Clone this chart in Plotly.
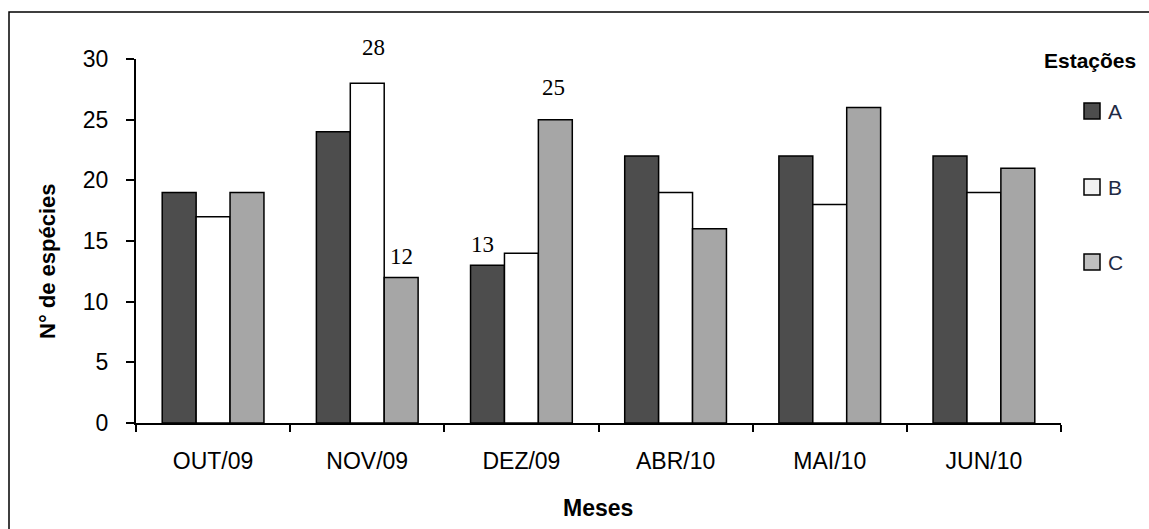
import plotly.graph_objects as go

# Monthly number of species per sampling station
months = ["OUT/09", "NOV/09", "DEZ/09", "ABR/10", "MAI/10", "JUN/10"]
station_a = [19, 24, 13, 22, 22, 22]
station_b = [17, 28, 14, 19, 18, 19]
station_c = [19, 12, 25, 16, 26, 21]
stations = ["A", "B", "C"]

# Values written above selected bars: (month index, station index)
labelled = [(1, 1), (1, 2), (2, 0), (2, 2)]
label_lift = [36, 21, 21, 32]
label_nudge = [6, 0, -5, -2]

W, H = 1149, 529
ML, MR, MT, MB = 136, 88, 59, 106
PW, PH = W - ML - MR, H - MT - MB


def px(x):
    return (x - ML) / PW


def py(y):
    return (H - MB - y) / PH


fills = ["#4d4d4d", "#ffffff", "#a6a6a6"]
legend_fills = ["#4d4d4d", "#f2f2f2", "#bfbfbf"]
series = [station_a, station_b, station_c]
BARGAP = 0.34
SANS = "Liberation Sans"

fig = go.Figure()
for name, vals, col in zip(stations, series, fills):
    fig.add_trace(go.Bar(
        x=months, y=vals, name=name,
        marker=dict(color=col, line=dict(color="#000000", width=1.5)),
        showlegend=False,
    ))

bar_w = (1 - BARGAP) / 3
annotations = []
for (mi, si), lift, nudge in zip(labelled, label_lift, label_nudge):
    annotations.append(dict(
        x=mi + (si - 1) * bar_w, y=series[si][mi], xref="x", yref="y",
        text=str(series[si][mi]), showarrow=False,
        xanchor="center", yanchor="middle",
        yshift=lift, xshift=nudge,
        font=dict(family="Liberation Serif", size=23, color="#000000"),
    ))

# Axis titles
annotations.append(dict(
    x=px(47), y=py(261), xref="paper", yref="paper", text="N° de espécies",
    textangle=-90, showarrow=False, xanchor="center", yanchor="middle",
    font=dict(family=SANS, size=22, color="#000000", weight="bold"),
))
annotations.append(dict(
    x=px(598), y=py(508), xref="paper", yref="paper", text="Meses",
    showarrow=False, xanchor="center", yanchor="middle",
    font=dict(family=SANS, size=23, color="#000000", weight="bold"),
))

# Legend
annotations.append(dict(
    x=px(1090), y=py(60), xref="paper", yref="paper", text="Estações",
    showarrow=False, xanchor="center", yanchor="middle",
    font=dict(family=SANS, size=21, color="#000000", weight="bold"),
))
shapes = []
legend_y = [111, 187, 262]
for name, col, ly in zip(stations, legend_fills, legend_y):
    shapes.append(dict(
        type="rect", xref="paper", yref="paper",
        x0=px(1084), x1=px(1100), y0=py(ly + 8), y1=py(ly - 8),
        fillcolor=col, line=dict(color="#000000", width=1.5),
    ))
    annotations.append(dict(
        x=px(1106), y=py(ly), xref="paper", yref="paper", text=name,
        xanchor="left", yanchor="middle", showarrow=False,
        font=dict(family=SANS, size=21, color="#1f2a44"),
    ))

# Frame around the figure
shapes.append(dict(
    type="rect", xref="paper", yref="paper",
    x0=px(9), x1=px(W + 20), y0=py(H + 20), y1=py(12),
    line=dict(color="#000000", width=1.5), fillcolor="rgba(0,0,0,0)",
))

fig.update_layout(
    width=W, height=H,
    margin=dict(l=ML, r=MR, t=MT, b=MB, autoexpand=False),
    paper_bgcolor="#ffffff", plot_bgcolor="#ffffff",
    barmode="group", bargap=BARGAP, bargroupgap=0,
    annotations=annotations, shapes=shapes,
    font=dict(family=SANS, size=22, color="#000000"),
)
fig.update_xaxes(
    showline=True, linecolor="#000000", linewidth=2,
    ticks="outside", ticklen=7, tickwidth=2, tickcolor="#000000",
    tickson="boundaries", ticklabelstandoff=16,
    showgrid=False, zeroline=False,
    tickfont=dict(family=SANS, size=23, color="#000000"),
)
fig.update_yaxes(
    range=[0, 30], dtick=5,
    showline=True, linecolor="#000000", linewidth=2,
    ticks="outside", ticklen=8, tickwidth=2, tickcolor="#000000",
    ticklabelstandoff=13,
    showgrid=False, zeroline=False,
    tickfont=dict(family=SANS, size=23, color="#000000"),
)

fig.write_html("out.html")
